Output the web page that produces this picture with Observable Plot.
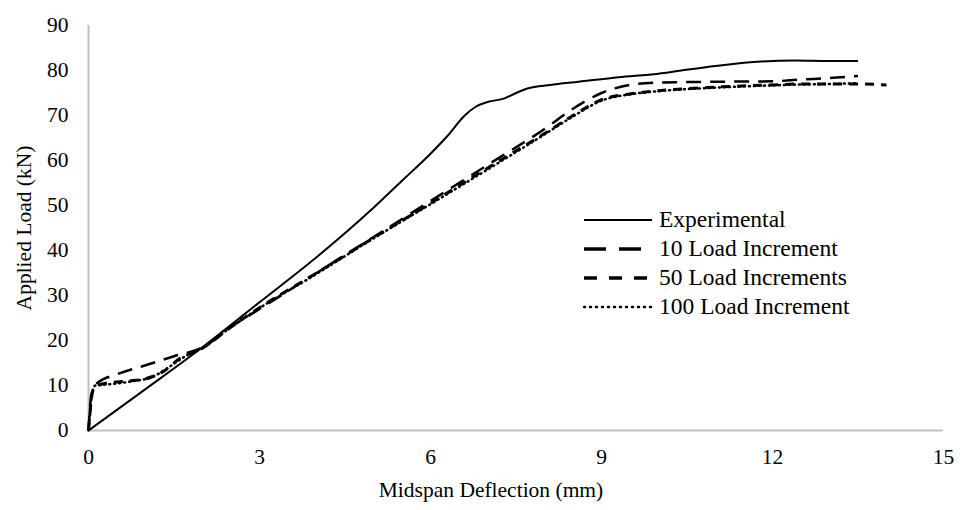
<!DOCTYPE html>
<html><head><meta charset="utf-8">
<script src="https://cdn.jsdelivr.net/npm/d3@7"></script>
<script src="https://cdn.jsdelivr.net/npm/@observablehq/plot@0.6"></script>
<style>
body{margin:0;background:#fff;}
#wrap{position:relative;width:963px;height:510px;font-family:"Liberation Serif","Times New Roman",serif;}
#legend{position:absolute;left:583px;top:205px;font-size:23.5px;color:#000;}
#legend .row{display:flex;align-items:center;height:29px;}
#legend svg{margin-right:6px;}
</style></head><body><div id="wrap"><div id="legend"></div></div>
<script>
// Experimental
const expX = [0,1,2,3,4,5,5.5,6,6.3,6.6,6.8,7.0,7.3,7.5,7.7,8.1,8.6,9.3,10,10.4,11,11.8,12.4,13,13.5];
const expY = [0,9.2,18.5,28.5,38.5,49.5,55.5,61.5,65.5,70,72,73,73.8,75,76,76.8,77.5,78.5,79.3,80,81,82,82.2,82.1,82.1];
// 10 Load Increment
const li10X = [0,0.05,0.15,0.5,1,1.5,2,2.5,3,4,5,6,7,8,8.5,9,9.5,10,11,12,12.5,13,13.5];
const li10Y = [0,8,10.5,12.5,14.5,16.5,18.5,23,27,35,43,51,59,67,71.5,75,76.8,77.3,77.5,77.6,78,78.3,78.8];
// 50 Load Increments
const li50X = [0,0.02,0.05,0.1,0.3,0.7,1,1.3,1.6,2,2.5,3,4,5,6,7,8,8.5,9,9.5,10,11,12,12.5,13,13.5,14];
const li50Y = [0,3,7,9.5,10.5,11,11.5,13,16,18.3,23,27.3,35,42.8,50.5,58.3,66,70,73.5,74.8,75.5,76.3,76.8,77,77,77,76.8];
// 100 Load Increment
const li100X = [0,0.03,0.06,0.12,0.4,0.8,1.1,1.4,1.7,2,2.5,3,4,5,6,7,8,8.5,9,9.5,10,11,12,12.5,13,13.5];
const li100Y = [0,4,8,10,10.3,11,11.8,14,16.5,18.3,23,27.2,34.8,42.7,50.3,58,65.8,69.8,73.3,74.7,75.4,76.2,76.7,76.9,77,77.2];
const seriesNames = ["Experimental","10 Load Increment","50 Load Increments","100 Load Increment"];
const xTicks = [0,3,6,9,12,15];
const yTicks = [0,10,20,30,40,50,60,70,80,90];
const xTitle = "Midspan Deflection (mm)";
const yTitle = "Applied Load (kN)";

const mk = (xs, ys) => xs.map((x, i) => ({x, y: ys[i]}));
const styles = [
  {strokeWidth: 2, dash: null},
  {strokeWidth: 2.5, dash: "15,9"},
  {strokeWidth: 3, dash: "9,7"},
  {strokeWidth: 2.5, dash: "1,4"}
];
const data = [mk(expX, expY), mk(li10X, li10Y), mk(li50X, li50Y), mk(li100X, li100Y)];
const font = '"Liberation Serif","Times New Roman",serif';

const chart = Plot.plot({
  width: 963, height: 510,
  marginLeft: 88, marginRight: 20, marginTop: 25, marginBottom: 80,
  style: {fontFamily: font, fontSize: "21.5px", color: "#000", background: "#fff"},
  x: {domain: [0, 15]},
  y: {domain: [0, 90]},
  marks: [
    Plot.ruleY([0], {stroke: "#bfbfbf", strokeWidth: 2}),
    Plot.ruleX([0], {stroke: "#bfbfbf", strokeWidth: 2}),
    Plot.axisX(xTicks, {tickSize: 0, tickPadding: 18, fontSize: 21.5, label: null}),
    Plot.axisY(yTicks, {tickSize: 0, tickPadding: 20, fontSize: 21.5, label: null}),
    Plot.text([xTitle], {frameAnchor: "bottom", textAnchor: "middle", dy: 66, dx: -25, fontSize: 21.5, fill: "black"}),
    Plot.text([yTitle], {frameAnchor: "left", textAnchor: "middle", dx: -64, rotate: -90, fontSize: 21.5, fill: "black"}),
    ...data.map((d, i) => Plot.line(d, {x: "x", y: "y", stroke: "black", strokeWidth: styles[i].strokeWidth, strokeDasharray: styles[i].dash, strokeLinecap: i === 3 ? "round" : "butt", curve: "monotone-x"}))
  ]
});
document.getElementById("wrap").prepend(chart);

const legend = document.getElementById("legend");
seriesNames.forEach((name, i) => {
  const row = document.createElement("div");
  row.className = "row";
  const dashes = [null, "22,13", "13,12", "1,5"][i];
  row.innerHTML = `<svg width="70" height="10"><line x1="1" x2="69" y1="5" y2="5" stroke="black" stroke-width="${i===0?2:i===3?2.5:3.5}" ${dashes ? `stroke-dasharray="${dashes}"` : ""} stroke-linecap="${i===3?"round":"butt"}"/></svg><span>${name}</span>`;
  legend.appendChild(row);
});
</script>
</body></html>
